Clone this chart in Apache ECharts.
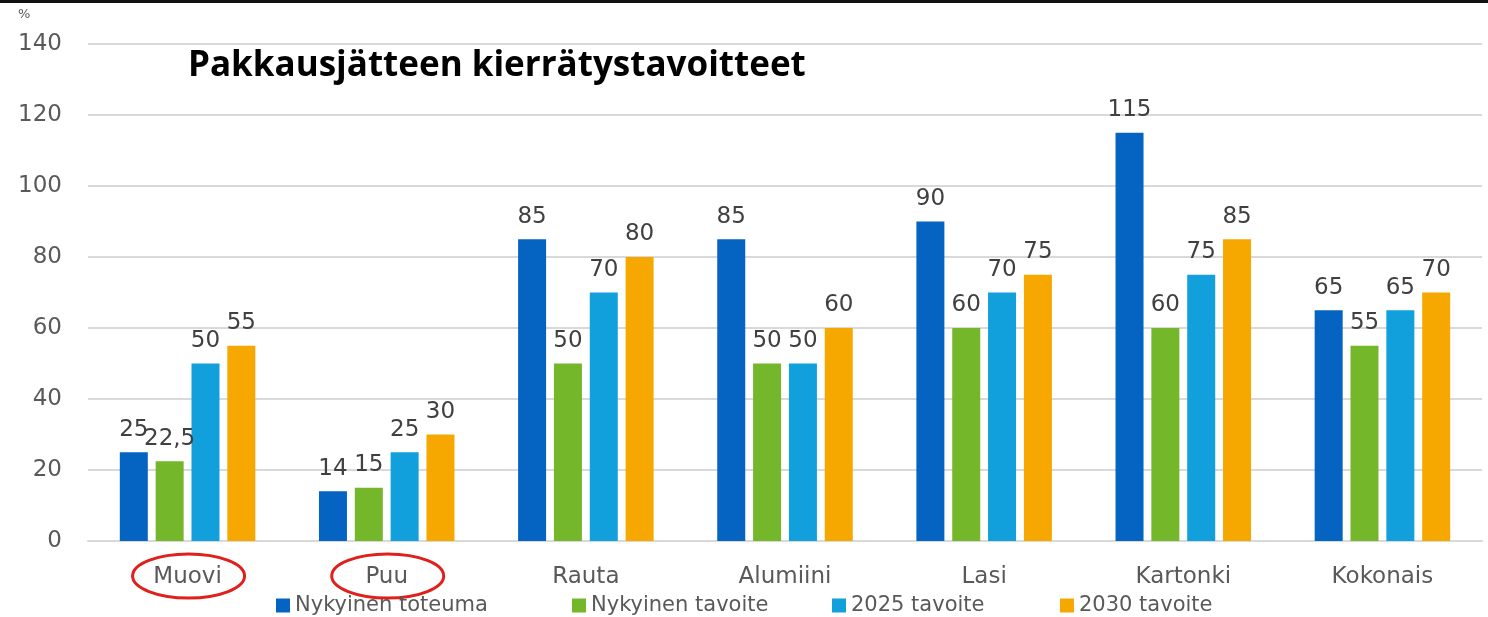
<!DOCTYPE html>
<html>
<head>
    <meta charset="utf-8">
    <title>Pakkausjätteen kierrätystavoitteet</title>
    <script src="https://cdn.jsdelivr.net/npm/echarts@6/dist/echarts.min.js"></script>
    <style>
        html, body { margin: 0; padding: 0; background: #fff; }
        #main { width: 1488px; height: 617px; }
    </style>
</head>
<body>
<div id="main"></div>
<script type="text/javascript">
    var categories = ['Muovi', 'Puu', 'Rauta', 'Alumiini', 'Lasi', 'Kartonki', 'Kokonais'];
    var seriesNames = ['Nykyinen toteuma', 'Nykyinen tavoite', '2025 tavoite', '2030 tavoite'];
    var nykyinenToteuma = [25, 14, 85, 85, 90, 115, 65];
    var nykyinenTavoite = [22.5, 15, 50, 50, 60, 60, 55];
    var tavoite2025 = [50, 25, 70, 50, 70, 75, 65];
    var tavoite2030 = [55, 30, 80, 60, 75, 85, 70];
    var circled = ['Muovi', 'Puu'];
    var colors = ['#0563c1', '#74b72b', '#12a0dd', '#f6a800'];
    var legendLefts = [276, 572, 832, 1060];

    var numFont = 'DejaVu Sans';
    var myChart = echarts.init(document.getElementById('main'));

    var makeSeries = function (name, data, idx) {
        return {
            name: name,
            type: 'bar',
            data: data,
            barWidth: 28,
            barGap: '28%',
            itemStyle: { color: colors[idx] },
            label: {
                show: true,
                position: 'top',
                distance: 11,
                color: '#404040',
                fontFamily: numFont,
                fontSize: 23,
                formatter: function (p) {
                    return String(p.value).replace('.', ',');
                }
            }
        };
    };

    // one legend per item so that each sits where it does in the picture
    var legends = seriesNames.map(function (n, i) {
        return {
            data: [n],
            left: legendLefts[i],
            top: 595,
            padding: 0,
            itemWidth: 14,
            itemHeight: 14,
            itemGap: 4,
            icon: 'rect',
            textStyle: { color: '#595959', fontFamily: numFont, fontSize: 21 }
        };
    });

    var option = {
        animation: false,
        grid: { left: 88, right: 6, top: 44, bottom: 76 },
        legend: legends,
        xAxis: {
            type: 'category',
            data: categories,
            axisTick: { show: false },
            axisLine: { lineStyle: { color: '#d9d9d9', width: 2 } },
            axisLabel: { color: '#595959', fontFamily: numFont, fontSize: 23, margin: 25 }
        },
        yAxis: {
            type: 'value',
            min: 0,
            max: 140,
            interval: 20,
            axisLine: { show: false },
            axisTick: { show: false },
            splitLine: { lineStyle: { color: '#d9d9d9', width: 2 } },
            axisLabel: { color: '#595959', fontFamily: numFont, fontSize: 23, margin: 26 }
        },
        series: [
            makeSeries(seriesNames[0], nykyinenToteuma, 0),
            makeSeries(seriesNames[1], nykyinenTavoite, 1),
            makeSeries(seriesNames[2], tavoite2025, 2),
            makeSeries(seriesNames[3], tavoite2030, 3)
        ]
    };
    myChart.setOption(option);

    // annotations: title, % mark, top border, red rings round some category labels
    var graphics = [
        {
            type: 'rect',
            shape: { x: 0, y: 0, width: 1488, height: 3 },
            style: { fill: '#111' }
        },
        {
            type: 'text',
            x: 18, y: 8,
            style: { text: '%', fill: '#595959', font: '13px "DejaVu Sans"' }
        },
        {
            type: 'text',
            x: 188, y: 49,
            style: { text: 'Pakkausjätteen kierrätystavoitteet', fill: '#000', font: 'bold 35px "Open Sans"' }
        }
    ];
    circled.forEach(function (c) {
        var px = myChart.convertToPixel({ xAxisIndex: 0 }, c);
        graphics.push({
            type: 'ellipse',
            shape: { cx: px + 1, cy: 576, rx: 56, ry: 22 },
            style: { fill: 'none', stroke: '#e0201c', lineWidth: 3 }
        });
    });
    myChart.setOption({ graphic: graphics });

    window.onresize = myChart.resize;
</script>
</body>
</html>
